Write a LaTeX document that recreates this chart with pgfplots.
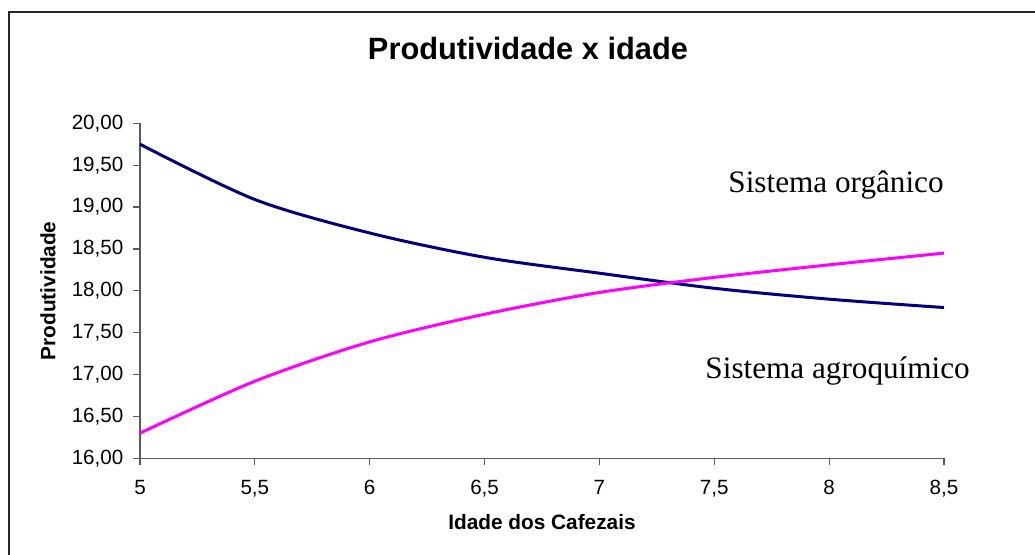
\documentclass[border=0pt]{standalone}
\usepackage{pgfplots}
\pgfplotsset{compat=1.18}
\usepackage{fontspec}
\setmainfont{Liberation Sans}
\newfontfamily\timesfont{Liberation Serif}

\definecolor{organico}{RGB}{0,0,128}
\definecolor{agro}{RGB}{255,0,255}
\definecolor{axisgray}{RGB}{90,90,90}

\pgfplotstableread{
x y
5.0 19.75
5.5 19.09
6.0 18.69
6.5 18.40
7.0 18.21
7.5 18.03
8.0 17.90
8.5 17.80
}\organico

\pgfplotstableread{
x y
5.0 16.30
5.5 16.92
6.0 17.39
6.5 17.72
7.0 17.98
7.5 18.16
8.0 18.31
8.5 18.45
}\agro

\begin{document}
\begin{tikzpicture}
% canvas: 1 px = 0.5 pt
\useasboundingbox (0,0) rectangle (517.5pt,277.5pt);
\draw[line width=0.6pt, black!85] (4.5pt,0) -- (4.5pt,271.5pt) -- (520pt,271.5pt);
\begin{axis}[
    at={(70pt,48.35pt)}, anchor=south west,
    scale only axis,
    width=402pt, height=167.5pt,
    xmin=5, xmax=8.5,
    ymin=16, ymax=20,
    xtick={5,5.5,...,8.5},
    ytick={16,16.5,...,20},
    axis x line*=bottom,
    axis y line*=left,
    axis line style={axisgray, line width=0.7pt, -},
    tick style={axisgray, line width=0.6pt},
    tick align=outside,
    major tick length=3.3pt,
    /pgf/number format/assume math mode=true,
    xticklabel style={font=\fontsize{10.3}{12}\selectfont, yshift=-4pt, /pgf/number format/.cd, use comma, fixed},
    yticklabel style={font=\fontsize{10.3}{12}\selectfont, xshift=-1.5pt, /pgf/number format/.cd, use comma, fixed, fixed zerofill, precision=2},
    xlabel={\textbf{Idade dos Cafezais}},
    ylabel={\textbf{Produtividade}},
    xlabel style={font=\fontsize{10.4}{12}\selectfont, at={(axis description cs:0.5,0)}, anchor=center, yshift=-31.9pt},
    ylabel style={font=\fontsize{10.4}{12}\selectfont, at={(axis description cs:0,0.5)}, rotate=0, anchor=center, yshift=46pt},
    title={\textbf{Produtividade x idade}},
    title style={font=\fontsize{15.4}{18}\selectfont, at={(axis description cs:0.4826,1)}, anchor=base, yshift=26pt},
    clip=false,
]
\addplot[organico, line width=1.5pt, smooth] table[x=x,y=y] {\organico};
\addplot[agro, line width=1.5pt, smooth] table[x=x,y=y] {\agro};
\node[anchor=base west, inner sep=0pt, font=\timesfont\fontsize{15.6}{18}\selectfont] at (axis cs:7.56,19.17) {Sistema orgânico};
\node[anchor=base west, inner sep=0pt, font=\timesfont\fontsize{15.6}{18}\selectfont] at (axis cs:7.46,16.955) {Sistema agroquímico};
\end{axis}
\end{tikzpicture}
\end{document}
